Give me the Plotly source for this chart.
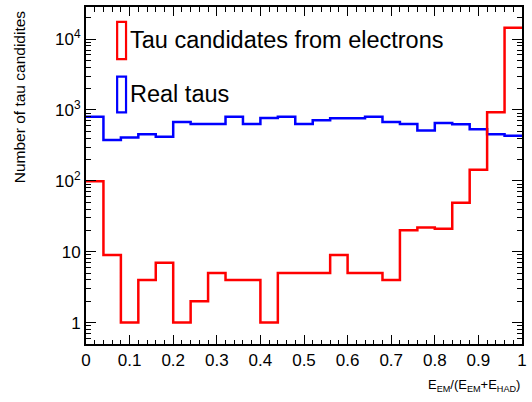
import numpy as np
import plotly.graph_objects as go

# Histogram binning: 25 bins over E_EM/(E_EM+E_HAD) in [0, 1]
bin_lo = 0.0
bin_hi = 1.0
n_bins = 25

# Tau candidates coming from electrons (red)
electron_counts = [99, 9, 1, 4, 7, 1, 2, 5, 4, 4, 1, 5, 5, 5, 9, 5, 5, 4,
                   20, 22, 21, 49, 143, 930, 14500]

# Real hadronic taus (blue)
real_tau_counts = [800, 376, 410, 456, 418, 678, 635, 635, 800, 635, 771, 800,
                   635, 716, 764, 764, 800, 678, 635, 514, 656, 629, 535, 456, 431]

# Axis tick labels
x_tick_vals = [0, 0.1, 0.2, 0.3, 0.4, 0.5, 0.6, 0.7, 0.8, 0.9, 1]
x_tick_text = ["0", "0.1", "0.2", "0.3", "0.4", "0.5", "0.6", "0.7", "0.8", "0.9", "1"]
y_tick_vals = [1, 10, 100, 1000, 10000]
y_tick_text = ["1", "10", "10<sup>2</sup>", "10<sup>3</sup>", "10<sup>4</sup>"]

legend_labels = ["Tau candidates from electrons", "Real taus"]

FONT = "Liberation Sans, Arial, Helvetica, sans-serif"
RED = "#ff0000"
BLUE = "#0000ff"

edges = np.linspace(bin_lo, bin_hi, n_bins + 1)


def step_y(counts):
    # repeat the last bin so the 'hv' step closes at the upper edge
    return list(counts) + [counts[-1]]


fig = go.Figure()
fig.add_trace(go.Scatter(
    x=edges, y=step_y(real_tau_counts), mode="lines",
    line=dict(color=BLUE, width=2.5, shape="hv"), name=legend_labels[1],
    showlegend=False,
))
fig.add_trace(go.Scatter(
    x=edges, y=step_y(electron_counts), mode="lines",
    line=dict(color=RED, width=2.5, shape="hv"), name=legend_labels[0],
    showlegend=False,
))

# plot frame in pixels: left 86, right 527, top 5, bottom 344
L, R, T, B = 86, 527, 5, 344
W, H = 532, 402


def px_x(p):
    return (p - L) / (R - L)


def px_y(p):
    return (B - p) / (B - T)


# ROOT-style legend: tall open boxes with the entry text beside them
legend_boxes = [(RED, 20, 57.5, 38.5), (BLUE, 75, 111, 93)]
for (col, y0, y1, yc), label in zip(legend_boxes, legend_labels):
    fig.add_shape(type="rect", xref="paper", yref="paper",
                  x0=px_x(117.5), x1=px_x(126.5), y0=px_y(y1), y1=px_y(y0),
                  line=dict(color=col, width=2.2), fillcolor="rgba(0,0,0,0)")
    fig.add_annotation(xref="paper", yref="paper", x=px_x(128), y=px_y(yc),
                       xanchor="left", yanchor="middle", showarrow=False,
                       text=label, font=dict(family=FONT, size=23.5, color="black"))

# axis titles
fig.add_annotation(xref="paper", yref="paper", x=1.0, y=px_y(386),
                   xanchor="right", yanchor="middle", showarrow=False,
                   text="E<sub>EM</sub>/(E<sub>EM</sub>+E<sub>HAD</sub>)",
                   font=dict(family=FONT, size=13, color="black"))
fig.add_annotation(xref="paper", yref="paper", x=px_x(19), y=px_y(6),
                   xanchor="center", yanchor="top", showarrow=False,
                   textangle=-90, text="Number of tau candidites",
                   font=dict(family=FONT, size=15.5, color="black"))

axis_common = dict(
    showline=True, linecolor="black", linewidth=2, mirror="allticks",
    ticks="inside", tickcolor="black", tickwidth=1.3, showgrid=False,
    zeroline=False, tickfont=dict(family=FONT, size=17, color="black"),
)

fig.update_xaxes(
    range=[bin_lo, bin_hi], tickmode="array", tickvals=x_tick_vals,
    ticktext=x_tick_text, ticklen=9,
    minor=dict(ticks="inside", dtick=0.02, ticklen=4.5,
               tickcolor="black", tickwidth=1.2, showgrid=False),
    **axis_common,
)
fig.update_yaxes(
    type="log", range=[np.log10(0.498), 4.453], tickmode="array",
    tickvals=y_tick_vals, ticktext=y_tick_text, ticklen=10,
    minor=dict(ticks="inside", dtick="D1", ticklen=5,
               tickcolor="black", tickwidth=1.2, showgrid=False),
    **axis_common,
)

fig.update_layout(
    width=W, height=H,
    margin=dict(l=L, r=W - R, t=T, b=H - B, pad=0),
    paper_bgcolor="white", plot_bgcolor="white",
    font=dict(family=FONT, color="black"),
    showlegend=False,
)

fig.write_html("out.html")
